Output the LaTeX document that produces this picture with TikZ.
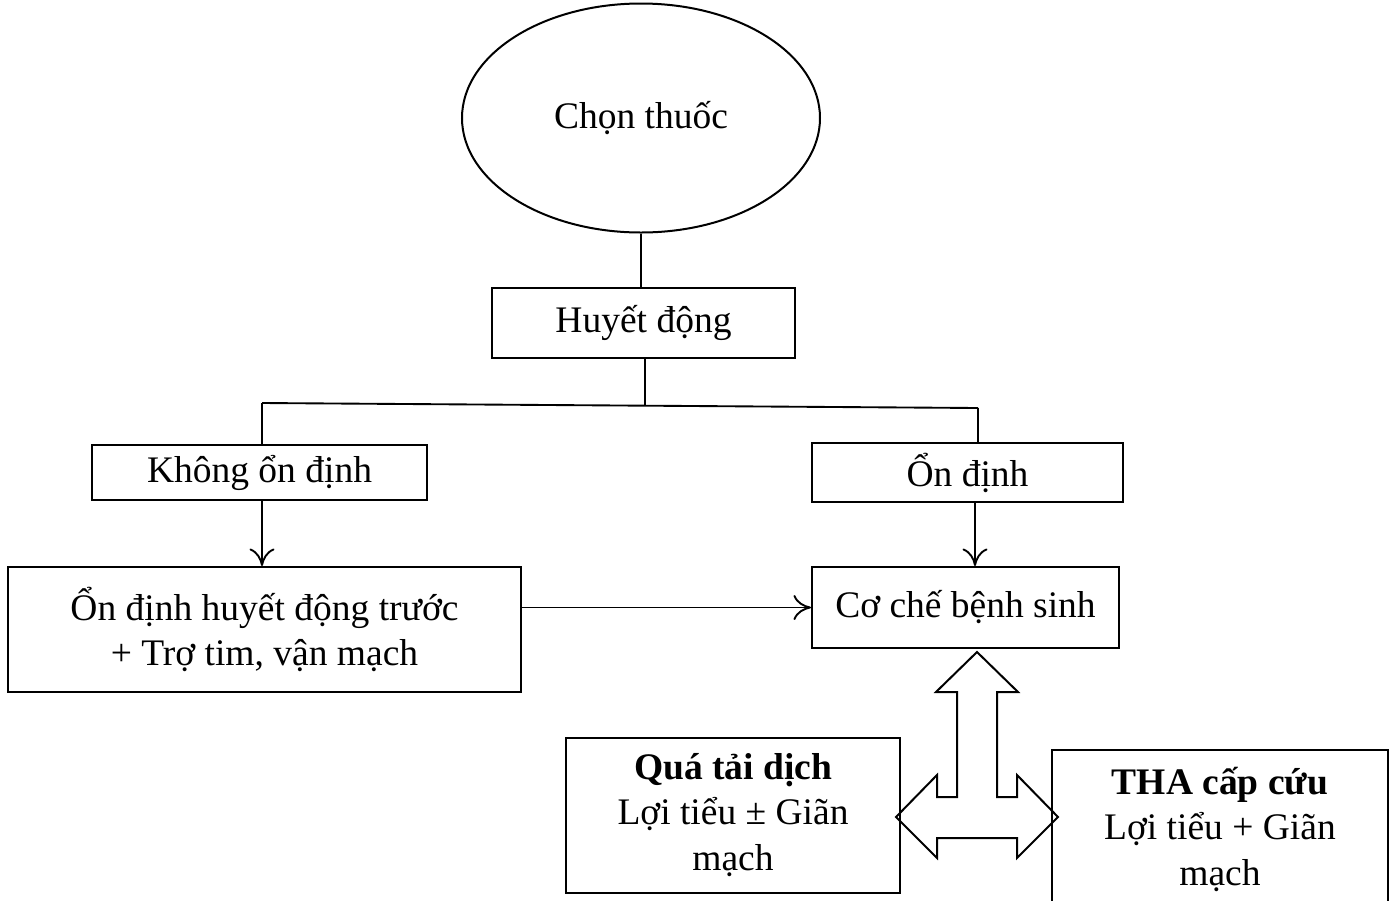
\documentclass[tikz,border=0pt]{standalone}
\usepackage{fontspec}
\setmainfont{Liberation Serif}
\usepackage{tikz}
\usetikzlibrary{shapes.geometric}
\usetikzlibrary{arrows.meta}

\tikzset{
	box/.style={draw, line width=0.8pt, inner sep=0pt, align=center},
	conn/.style={line width=0.75pt},
	arr/.style={line width=0.75pt, -{To[length=7pt,width=10pt]}}
}

\begin{document}
\begin{tikzpicture}[x=0.4pt, y=-0.4pt, font=\fontsize{15}{18.2}\selectfont]
		\useasboundingbox (0,0) rectangle (1395,901);
		\node[box, ellipse, minimum width=143.2pt, minimum height=91.6pt] (chon) at (641,118) {Chọn thuốc};
		\node[box, minimum width=121.2pt, minimum height=28pt] (huyet) at (643.5,323) {Huyết động};
		\node[box, minimum width=134pt, minimum height=22pt] (khong) at (259.5,472.5) {Không ổn định};
		\node[box, minimum width=124.4pt, minimum height=23.6pt] (ondinh) at (967.5,472.5) {Ổn định};
		\node[box, minimum width=205.2pt, minimum height=50pt] (truoc) at (264.5,629.5) {Ổn định huyết động trước\\+ Trợ tim, vận mạch};
		\node[box, minimum width=122.8pt, minimum height=32.4pt] (coche) at (965.5,607.5) {Cơ chế bệnh sinh};
		\node[box, minimum width=133.6pt, minimum height=62pt] (quatai) at (733,815.5) {\textbf{Quá tải dịch}\\Lợi tiểu ± Giãn\\mạch\vphantom{p}};
		\node[box, minimum width=134.4pt, minimum height=64pt] (tha) at (1220,830) {\textbf{THA cấp cứu}\\Lợi tiểu + Giãn\\mạch\vphantom{p}};
		\coordinate (split) at (645,406);
		\coordinate (splitL) at (262,403);
		\coordinate (splitR) at (978,408);
		\draw[conn] (chon.south) -- (chon.south |- huyet.north);
		\draw[conn] (huyet.south -| split) -- (split);
		\draw[conn] (splitL) -- (splitR);
		\draw[conn] (splitL) -- (splitL |- khong.north);
		\draw[conn] (splitR) -- (splitR |- ondinh.north);
		\draw[arr] (splitL |- khong.south) -- (splitL |- truoc.north);
		\draw[arr] (975,0 |- ondinh.south) -- (975,0 |- coche.north);
		\draw[arr] (truoc.east |- coche.west) -- (coche.west);
		\draw[line width=0.8pt] (977,652) -- (1018,692) -- (997,692) -- (997,797) -- (1017,797) -- (1017,775) -- (1058,817) -- (1017,858) -- (1017,838) -- (937,838) -- (937,858) -- (896,817) -- (937,775) -- (937,797) -- (957,797) -- (957,692) -- (936,692) -- cycle;
\end{tikzpicture}
\end{document}
